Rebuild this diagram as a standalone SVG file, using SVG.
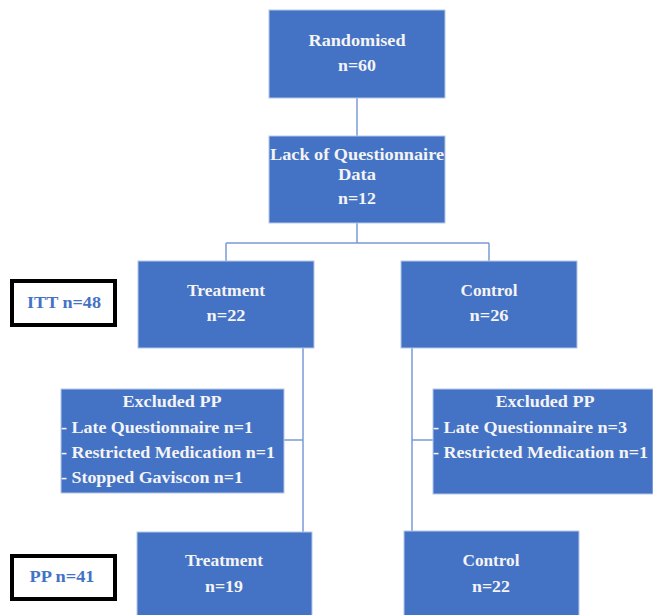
<svg xmlns="http://www.w3.org/2000/svg" width="653" height="615" viewBox="0 0 653 615">
<style>
.box{fill:#4472C4;stroke:#B4C7E7;stroke-width:1}
.t{font-family:"Liberation Serif",serif;font-weight:bold;font-size:17px;fill:#F4F4F4;text-anchor:middle}
.l{font-family:"Liberation Serif",serif;font-weight:bold;font-size:17px;fill:#F4F4F4}
.lab{fill:#FFFFFF;stroke:#000000;stroke-width:4}
.lt{font-family:"Liberation Serif",serif;font-weight:bold;font-size:17px;fill:#4472C4;text-anchor:middle}
.c{fill:none;stroke:#7B9BD6;stroke-width:1.5}
</style>
<rect width="653" height="615" fill="#FFFFFF"/>
<g id="connectors">
<path class="c" d="M357,98 V136"/>
<path class="c" d="M357,223 V243 M226,243 H489 M226,243 V261 M489,243 V261"/>
<path class="c" d="M303,348 V532 M284,440 H303"/>
<path class="c" d="M412,348 V531 M412,440 H433"/>
</g>
<g id="randomised">
<rect class="box" x="269" y="10" width="176" height="88"/>
<text class="t" x="357" y="46" textLength="97" lengthAdjust="spacingAndGlyphs">Randomised</text>
<text class="t" x="357" y="71" textLength="38" lengthAdjust="spacingAndGlyphs">n=60</text>
</g>
<g id="lack">
<rect class="box" x="269" y="136" width="176" height="87"/>
<text class="t" x="357" y="160" font-size="16" textLength="174" lengthAdjust="spacingAndGlyphs">Lack of Questionnaire</text>
<text class="t" x="357" y="180" font-size="16" textLength="38" lengthAdjust="spacingAndGlyphs">Data</text>
<text class="t" x="357" y="204" textLength="38" lengthAdjust="spacingAndGlyphs">n=12</text>
</g>
<g id="itt">
<rect class="lab" x="12" y="281" width="103" height="44"/>
<text class="lt" x="64" y="308" textLength="74" lengthAdjust="spacingAndGlyphs">ITT n=48</text>
</g>
<g id="treatment">
<rect class="box" x="138" y="261" width="176" height="87"/>
<text class="t" x="226" y="296" textLength="78" lengthAdjust="spacingAndGlyphs">Treatment</text>
<text class="t" x="226" y="321" textLength="39" lengthAdjust="spacingAndGlyphs">n=22</text>
</g>
<g id="control">
<rect class="box" x="401" y="261" width="176" height="87"/>
<text class="t" x="489" y="296" textLength="57" lengthAdjust="spacingAndGlyphs">Control</text>
<text class="t" x="489" y="321" textLength="39" lengthAdjust="spacingAndGlyphs">n=26</text>
</g>
<g id="excluded-treatment">
<rect class="box" x="61" y="389" width="223" height="104"/>
<text class="t" x="172" y="407" textLength="99" lengthAdjust="spacingAndGlyphs">Excluded PP</text>
<text class="l" x="61" y="433" textLength="192" lengthAdjust="spacingAndGlyphs">- Late Questionnaire n=1</text>
<text class="l" x="61" y="458" textLength="214" lengthAdjust="spacingAndGlyphs">- Restricted Medication n=1</text>
<text class="l" x="61" y="483" textLength="182" lengthAdjust="spacingAndGlyphs">- Stopped Gaviscon n=1</text>
</g>
<g id="excluded-control">
<rect class="box" x="433" y="389" width="220" height="105"/>
<text class="t" x="545" y="407" textLength="99" lengthAdjust="spacingAndGlyphs">Excluded PP</text>
<text class="l" x="433" y="433" textLength="194" lengthAdjust="spacingAndGlyphs">- Late Questionnaire n=3</text>
<text class="l" x="433" y="458" textLength="215" lengthAdjust="spacingAndGlyphs">- Restricted Medication n=1</text>
</g>
<g id="pp">
<rect class="lab" x="12" y="556" width="103" height="43"/>
<text class="lt" x="62" y="582" textLength="65" lengthAdjust="spacingAndGlyphs">PP n=41</text>
</g>
<g id="treatment-pp">
<rect class="box" x="137" y="532" width="175" height="90"/>
<text class="t" x="224" y="566" textLength="78" lengthAdjust="spacingAndGlyphs">Treatment</text>
<text class="t" x="224" y="592" textLength="38" lengthAdjust="spacingAndGlyphs">n=19</text>
</g>
<g id="control-pp">
<rect class="box" x="404" y="531" width="175" height="91"/>
<text class="t" x="491" y="566" textLength="57" lengthAdjust="spacingAndGlyphs">Control</text>
<text class="t" x="491" y="592" textLength="38" lengthAdjust="spacingAndGlyphs">n=22</text>
</g>
</svg>
